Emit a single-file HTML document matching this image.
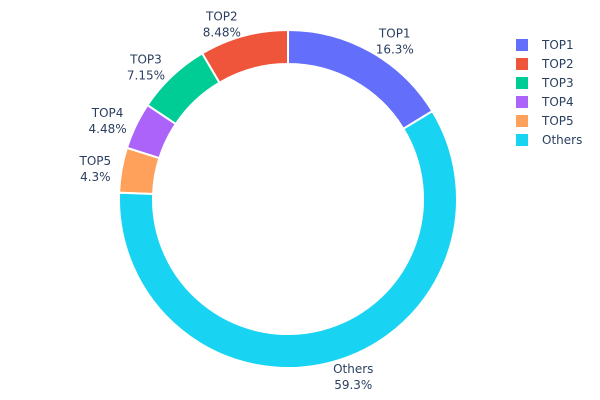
<!DOCTYPE html>
<html><head><meta charset="utf-8"><style>
body{margin:0;background:#fff;}
svg{display:block;font-family:"DejaVu Sans","Liberation Sans",sans-serif;}
</style></head><body>
<svg id="chart" width="600" height="400"></svg>
<script>
const categories=["TOP1","TOP2","TOP3","TOP4","TOP5","Others"];
const values=[16.3,8.48,7.15,4.48,4.3,59.3];
const labels=["16.3%","8.48%","7.15%","4.48%","4.3%","59.3%"];
const colors=["#636efa","#EF553B","#00cc96","#ab63fa","#FFA15A","#19d3f3"];
const NS="http://www.w3.org/2000/svg";
const svg=document.getElementById('chart');
const cx=288,cy=199,R=169,r=135;
const total=values.reduce((a,b)=>a+b,0);
function pt(a,rad){return [cx+rad*Math.sin(a),cy-rad*Math.cos(a)];}
function mk(t,attrs){const e=document.createElementNS(NS,t);for(const k in attrs)e.setAttribute(k,attrs[k]);return e;}
let end=values[0]/total*2*Math.PI;
values.forEach((v,i)=>{
  const sweep=v/total*2*Math.PI;
  const a1=end, a0=end-sweep;
  const large=sweep>Math.PI?1:0;
  const [x1,y1]=pt(a0,R),[x2,y2]=pt(a1,R),[x3,y3]=pt(a1,r),[x4,y4]=pt(a0,r);
  const p=mk('path',{d:`M${x1},${y1}A${R},${R} 0 ${large} 1 ${x2},${y2}L${x3},${y3}A${r},${r} 0 ${large} 0 ${x4},${y4}Z`,fill:colors[i],stroke:'#fff','stroke-width':2});
  
  
  svg.appendChild(p);
  const mid=(a0+a1)/2;
  const [ax,ay]=pt(mid,R+10);
  const s=Math.sin(mid),c=Math.cos(mid);
  const bc=ay-3*c+(c<0?1:0);
  const t=mk('text',{x:ax,'text-anchor':'middle','font-size':12,fill:'#2a3f5f'});
  
  
  const l1=mk('tspan',{x:ax,y:bc-3});l1.textContent=categories[i];
  const l2=mk('tspan',{x:ax,y:bc+13});l2.textContent=labels[i];
  t.appendChild(l1);t.appendChild(l2);
  svg.appendChild(t);
  const w=t.getBBox().width;
  const shift=s>0.1?w/2:(s<-0.1?-w/2:0);
  l1.setAttribute('x',ax+shift);l2.setAttribute('x',ax+shift);
  end=a0;
});
categories.forEach((cat,i)=>{
  const y=45+i*19;
  const g=mk('g',{});
  
  
  g.appendChild(mk('rect',{x:516,y:y-6,width:12,height:12,fill:colors[i]}));
  const t=mk('text',{x:542,y:y+4,'font-size':12,fill:'#2a3f5f'});
  t.textContent=cat;
  g.appendChild(t);
  svg.appendChild(g);
});
</script>
</body></html>
